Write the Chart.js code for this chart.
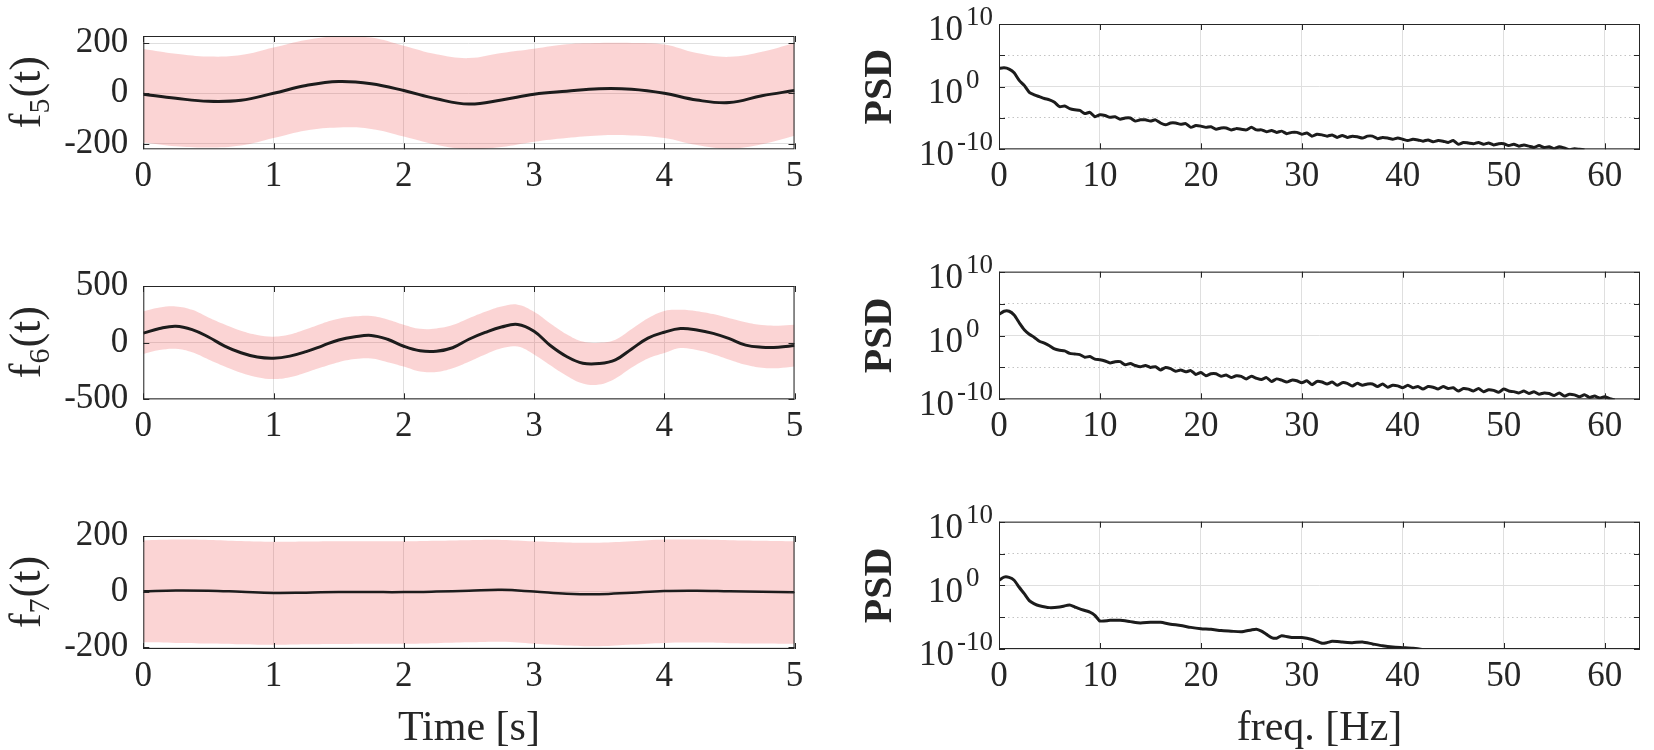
<!DOCTYPE html>
<html>
<head>
<meta charset="utf-8">
<script src="https://cdn.jsdelivr.net/npm/chart.js@4.4.1/dist/chart.umd.min.js"></script>
<style>
    body { margin: 0; background: #fff; }
    #figura { position: relative; width: 1654px; height: 750px; }
    canvas { position: absolute; }
</style>
</head>
<body>
<div id="figura">
    <canvas id="f5" width="820" height="250" style="left:0;top:0"></canvas>
    <canvas id="p5" width="834" height="250" style="left:820px;top:0"></canvas>
    <canvas id="f6" width="820" height="250" style="left:0;top:250px"></canvas>
    <canvas id="p6" width="834" height="250" style="left:820px;top:250px"></canvas>
    <canvas id="f7" width="820" height="250" style="left:0;top:500px"></canvas>
    <canvas id="p7" width="834" height="250" style="left:820px;top:500px"></canvas>
</div>
<script>
"use strict"

// tiempos [s]
const tiempo25 = [0, 0.25, 0.5, 0.75, 1, 1.25, 1.5, 1.75, 2, 2.25, 2.5, 2.75, 3, 3.25, 3.5, 3.75, 4, 4.25, 4.5, 4.75, 5];
const tiempo125 = [0, 0.125, 0.25, 0.375, 0.5, 0.625, 0.75, 0.875, 1, 1.125, 1.25, 1.375, 1.5, 1.625, 1.75, 1.875,
    2, 2.125, 2.25, 2.375, 2.5, 2.625, 2.75, 2.875, 3, 3.125, 3.25, 3.375, 3.5, 3.625, 3.75, 3.875,
    4, 4.125, 4.25, 4.375, 4.5, 4.625, 4.75, 4.875, 5];

// f5(t)
const f5Media = [-4, -20, -32, -28, 0, 31, 47, 38, 11, -22, -43, -27, -4, 8, 18, 16, 0, -27, -37, -10, 11];
const f5Sup = [176, 157, 146, 152, 182, 212, 227, 222, 189, 155, 140, 160, 177, 195, 200, 200, 194, 160, 145, 165, 200];
const f5Inf = [-196, -211, -216, -208, -178, -148, -136, -142, -172, -205, -223, -214, -193, -178, -168, -168, -178, -206, -220, -203, -169];

// f6(t)
const f6Media = [84, 125, 145, 115, 50, -30, -89, -127, -137, -119, -79, -28, 24, 52, 64, 30, -32, -72, -76, -45,
    30, 90, 138, 160, 100, -25, -122, -182, -185, -152, -55, 40, 92, 124, 112, 82, 35, -22, -40, -40, -26];
const f6Sup = [276, 310, 320, 290, 222, 160, 105, 68, 53, 72, 118, 170, 210, 232, 235, 205, 158, 122, 125, 155,
    215, 272, 318, 335, 272, 170, 75, 10, 0, 26, 120, 215, 280, 290, 278, 252, 215, 180, 155, 150, 158];
const f6Inf = [-100, -65, -54, -85, -148, -210, -265, -305, -321, -305, -263, -215, -172, -145, -140, -172, -211, -255, -258, -225,
    -168, -105, -50, -35, -105, -200, -292, -360, -370, -316, -220, -140, -92, -48, -65, -102, -150, -195, -222, -225, -211];

// f7(t)
const f7Media = [1, 4, 3, -1, -5, -4, -2, -2, -2, 0, 3, 6, 0, -8, -10, -4, 2, 3, 1, -1, -3];
const f7Sup = [184, 187, 186, 182, 179, 180, 181, 181, 181, 183, 185, 186, 181, 177, 176, 181, 187, 187, 185, 183, 181];
const f7Inf = [-183, -185, -187, -190, -192, -190, -189, -188, -188, -186, -183, -181, -188, -194, -197, -191, -185, -184, -186, -187, -188];

// frecuencias [Hz]
const frecMedio = [0, 0.5, 1, 1.5, 2, 2.5, 3, 3.5, 4, 4.5, 5, 5.5, 6, 6.5, 7, 7.5, 8, 8.5, 9, 9.5,
    10, 10.5, 11, 11.5, 12, 12.5, 13, 13.5, 14, 14.5, 15, 15.5, 16, 16.5, 17, 17.5, 18, 18.5, 19, 19.5,
    20, 20.5, 21, 21.5, 22, 22.5, 23, 23.5, 24, 24.5, 25, 25.5, 26, 26.5, 27, 27.5, 28, 28.5, 29, 29.5,
    30, 30.5, 31, 31.5, 32, 32.5, 33, 33.5, 34, 34.5, 35, 35.5, 36, 36.5, 37, 37.5, 38, 38.5, 39, 39.5,
    40, 40.5, 41, 41.5, 42, 42.5, 43, 43.5, 44, 44.5, 45, 45.5, 46, 46.5, 47, 47.5, 48, 48.5, 49, 49.5,
    50, 50.5, 51, 51.5, 52, 52.5, 53, 53.5, 54, 54.5, 55, 55.5, 56, 56.5, 57, 57.5, 58, 58.5, 59, 59.5,
    60, 60.5, 61];
const frec7 = [0, 0.5, 1, 1.5, 2, 2.5, 3, 3.5, 4, 5, 6, 7, 7.5, 8, 9, 9.5, 10, 11, 12, 13, 14, 15, 16, 17, 18, 19,
    20, 21, 22, 23, 24, 25, 25.5, 26, 26.5, 27, 27.5, 28, 29, 30, 31, 32, 32.5, 33, 34, 35, 36, 37, 38, 39, 40, 41, 42];

// PSD, en exponentes de 10
const psd5Log = [2.9, 3.0, 2.8, 2.2, 1.0, 0.2, -0.9, -1.3, -1.6, -1.9,
    -2.1, -2.5, -3.2, -3.1, -3.5, -3.7, -3.8, -4.3, -4.1, -4.8,
    -4.5, -4.6, -4.9, -4.8, -5.2, -5.0, -5.0, -5.5, -5.3, -5.3,
    -5.5, -5.3, -5.8, -6.1, -5.8, -5.8, -6.0, -5.9, -6.5, -6.2,
    -6.3, -6.5, -6.4, -6.8, -6.6, -6.6, -6.9, -6.7, -6.8, -6.9,
    -6.5, -6.9, -6.9, -7.2, -7.0, -7.3, -7.1, -7.5, -7.3, -7.3,
    -7.6, -7.4, -7.9, -7.6, -7.7, -7.9, -7.7, -8.1, -7.8, -8.1,
    -7.9, -8.0, -8.2, -7.9, -7.9, -8.3, -8.1, -8.2, -8.4, -8.2,
    -8.4, -8.6, -8.4, -8.5, -8.7, -8.5, -8.8, -8.6, -8.7, -8.9,
    -8.6, -9.2, -8.9, -9.0, -9.1, -8.9, -9.2, -9.0, -9.3, -9.1,
    -9.1, -9.4, -9.2, -9.5, -9.3, -9.5, -9.7, -9.4, -9.7, -9.6,
    -9.9, -9.6, -9.8, -10.1, -9.9, -10.0, -10.1];
const psd6Log = [3.3, 3.8, 3.8, 3.2, 2.0, 0.9, 0.2, -0.3, -0.9, -1.2,
    -1.6, -2.1, -2.3, -2.4, -2.8, -2.9, -3.0, -3.4, -3.3, -3.7,
    -3.8, -4.0, -4.3, -4.1, -4.1, -4.6, -4.4, -4.7, -4.9, -4.7,
    -5.0, -4.9, -5.4, -5.0, -5.2, -5.6, -5.4, -5.7, -5.5, -6.1,
    -5.8, -6.3, -6.0, -6.0, -6.4, -6.2, -6.6, -6.3, -6.4, -6.8,
    -6.4, -6.7, -6.9, -6.6, -7.2, -6.8, -7.0, -7.3, -7.0, -7.1,
    -7.4, -7.1, -7.7, -7.2, -7.3, -7.6, -7.3, -7.8, -7.4, -7.5,
    -7.9, -7.5, -7.8, -7.6, -7.6, -8.0, -7.6, -8.1, -7.8, -7.9,
    -8.2, -7.8, -8.2, -8.0, -8.4, -8.0, -8.1, -8.4, -8.0, -8.3,
    -8.2, -8.7, -8.3, -8.4, -8.7, -8.3, -8.8, -8.5, -8.6, -8.9,
    -8.4, -8.7, -8.8, -9.0, -8.7, -9.1, -8.8, -9.2, -9.0, -9.1,
    -9.4, -9.0, -9.5, -9.2, -9.3, -9.6, -9.3, -9.7, -9.5, -9.8,
    -9.6, -9.9, -10.1];
const psd7Log = [0.8, 1.3, 1.25, 0.8, -0.3, -1.3, -2.4, -2.9, -3.2, -3.5, -3.4, -3.1, -3.4, -3.7, -4.2, -4.7,
    -5.6, -5.5, -5.5, -5.7, -5.9, -5.8, -5.8, -6.1, -6.3, -6.6, -6.8, -6.9, -7.1, -7.2, -7.3, -7.0, -6.9,
    -7.2, -7.7, -8.2, -8.3, -7.9, -8.2, -8.2, -8.5, -9.1, -9.0, -8.8, -8.9, -9.0, -8.9, -9.2, -9.5, -9.7,
    -9.8, -9.9, -10.1];

// ticks
const ticksTiempo = [0, 1, 2, 3, 4, 5];
const ticksFrec = [0, 10, 20, 30, 40, 50, 60];
const ticksF5 = [-200, 0, 200];
const ticksF6 = [-500, 0, 500];
const ticksF7 = [-200, 0, 200];
const ticksPsd = [1e-10, 1e-5, 1, 1e5, 1e10];
const exponentesPsd = [-10, 0, 10];

const FUENTE = "'Liberation Serif', 'Times New Roman', serif";
const TINTA = "#262626";
const REJILLA = "#dfdfdf";
const BANDA = "rgba(235, 60, 60, 0.22)";
const TAM_TICK = 35;

Chart.defaults.font.family = FUENTE;

function fijarTicks(valores) {
    return scale => { scale.ticks = valores.map(v => ({ value: v })); };
}

function puntos(xs, ys) {
    return xs.map((x, i) => ({ x: x, y: ys[i] }));
}

const ejesMatlab = {
    id: "matlab",
    afterDraw(chart, args, opts) {
        const ctx = chart.ctx;
        const a = chart.chartArea;
        const sx = chart.scales.x;
        const sy = chart.scales.y;
        ctx.save();
        ctx.strokeStyle = TINTA;
        ctx.lineWidth = 1;
        ctx.beginPath();
        sx.ticks.forEach(t => {
            const px = Math.round(sx.getPixelForValue(t.value)) + 0.5;
            ctx.moveTo(px, a.bottom); ctx.lineTo(px, a.bottom - 6);
            ctx.moveTo(px, a.top); ctx.lineTo(px, a.top + 6);
        });
        sy.ticks.forEach(t => {
            const py = Math.round(sy.getPixelForValue(t.value)) + 0.5;
            ctx.moveTo(a.left, py); ctx.lineTo(a.left + 6, py);
            ctx.moveTo(a.right, py); ctx.lineTo(a.right - 6, py);
        });
        ctx.stroke();
        ctx.strokeRect(a.left + 0.5, a.top + 0.5, a.right - a.left - 1, a.bottom - a.top - 1);

        ctx.fillStyle = TINTA;
        if (opts.exponentes) {
            const xr = a.left - 6;
            ctx.textBaseline = "middle";
            ctx.font = "27px " + FUENTE;
            const anchoRef = ctx.measureText("10").width;
            opts.exponentes.forEach(e => {
                const py = sy.getPixelForValue(Math.pow(10, e));
                const txt = String(e);
                ctx.font = "27px " + FUENTE;
                const w = ctx.measureText(txt).width;
                const xBase = xr - Math.max(w, anchoRef) - 3;
                ctx.textAlign = "left";
                ctx.fillText(txt, xBase + 3, py - 6);
                ctx.font = TAM_TICK + "px " + FUENTE;
                ctx.textAlign = "right";
                ctx.fillText("10", xBase, py + 7);
            });
        }
        if (opts.nombre) {
            const n = opts.nombre;
            ctx.translate(n.x, (a.top + a.bottom) / 2);
            ctx.rotate(-Math.PI / 2);
            const grande = "44px " + FUENTE;
            const chica = "30px " + FUENTE;
            ctx.font = grande;
            const w1 = ctx.measureText(n.base).width;
            const w3 = ctx.measureText(n.resto).width;
            ctx.font = chica;
            const w2 = ctx.measureText(n.sub).width;
            const x0 = -(w1 + w2 + w3) / 2;
            ctx.textAlign = "left";
            ctx.textBaseline = "alphabetic";
            ctx.font = grande;
            ctx.fillText(n.base, x0, 14);
            ctx.font = chica;
            ctx.fillText(n.sub, x0 + w1, 23);
            ctx.font = grande;
            ctx.fillText(n.resto, x0 + w1 + w2 + 1, 14);
        }
        ctx.restore();
    }
};

function ejeX(min, max, ticks, alto, titulo) {
    return {
        type: "linear",
        min: min,
        max: max,
        afterBuildTicks: fijarTicks(ticks),
        afterFit: s => { s.height = alto; },
        grid: { color: REJILLA, lineWidth: 1, drawTicks: false },
        border: { display: false },
        ticks: { color: TINTA, font: { size: TAM_TICK }, padding: 7, maxRotation: 0, autoSkip: false },
        title: {
            display: !!titulo,
            text: titulo || "",
            color: TINTA,
            font: { size: 42, lineHeight: 1.0 },
            padding: { top: 0, bottom: 0 }
        }
    };
}

function panelTiempo(id, tiempos, media, sup, inf, yMin, yMax, yTicks, sub, caja, titulo) {
    new Chart(document.getElementById(id), {
        type: "line",
        data: {
            datasets: [{
                data: puntos(tiempos, media),
                borderColor: "#1c1c1c",
                borderWidth: caja.grosor,
                pointRadius: 0,
                tension: 0.4,
                fill: false
            }, {
                data: puntos(tiempos, sup),
                borderWidth: 0,
                borderColor: "transparent",
                backgroundColor: BANDA,
                pointRadius: 0,
                tension: 0.4,
                fill: "+1"
            }, {
                data: puntos(tiempos, inf),
                borderWidth: 0,
                borderColor: "transparent",
                pointRadius: 0,
                tension: 0.4,
                fill: false
            }]
        },
        options: {
            responsive: false,
            animation: false,
            events: [],
            layout: { padding: { left: 0, right: 25.5, top: caja.arriba, bottom: 0 } },
            plugins: {
                legend: { display: false },
                tooltip: { enabled: false },
                matlab: { nombre: { base: "f", sub: sub, resto: "(t)", x: 26 } }
            },
            scales: {
                x: ejeX(0, 5, ticksTiempo, 250 - caja.abajo, titulo),
                y: {
                    type: "linear",
                    min: yMin,
                    max: yMax,
                    afterBuildTicks: fijarTicks(yTicks),
                    afterFit: s => { s.width = 143.3; },
                    grid: { color: REJILLA, lineWidth: 1, drawTicks: false },
                    border: { display: false },
                    ticks: { color: TINTA, font: { size: TAM_TICK }, padding: 15 }
                }
            }
        },
        plugins: [ejesMatlab]
    });
}

function panelPsd(id, frecs, valoresLog, caja, titulo) {
    new Chart(document.getElementById(id), {
        type: "line",
        data: {
            datasets: [{
                data: puntos(frecs, valoresLog.map(v => Math.pow(10, v))),
                borderColor: "#1c1c1c",
                borderWidth: 3,
                pointRadius: 0,
                tension: 0.2,
                fill: false
            }]
        },
        options: {
            responsive: false,
            animation: false,
            events: [],
            layout: { padding: { left: 0, right: 14, top: caja.arriba, bottom: 0 } },
            plugins: {
                legend: { display: false },
                tooltip: { enabled: false },
                matlab: { exponentes: exponentesPsd }
            },
            scales: {
                x: ejeX(0, 63.5, ticksFrec, 250 - caja.abajo, titulo),
                y: {
                    type: "logarithmic",
                    min: 1e-10,
                    max: 1e10,
                    afterBuildTicks: fijarTicks(ticksPsd),
                    afterFit: s => { s.width = 179; },
                    grid: {
                        drawTicks: false,
                        lineWidth: 1,
                        color: c => Math.round(Math.log10(c.tick.value)) % 10 === 0 ? REJILLA : "#c4c4c4",
                        borderDash: c => Math.round(Math.log10(c.tick.value)) % 10 === 0 ? [] : [1.5, 3]
                    },
                    border: {
                        display: false,
                        dash: c => Math.round(Math.log10(c.tick.value)) % 10 === 0 ? [] : [1.5, 3]
                    },
                    ticks: { display: false },
                    title: {
                        display: true,
                        text: "PSD",
                        color: TINTA,
                        font: { size: 40, weight: "bold" },
                        padding: { top: 37, bottom: 0 }
                    }
                }
            }
        },
        plugins: [ejesMatlab]
    });
}

panelTiempo("f5", tiempo25, f5Media, f5Sup, f5Inf, -223, 228, ticksF5, "5", { arriba: 24, abajo: 149.3, grosor: 3 });
panelTiempo("f6", tiempo125, f6Media, f6Sup, f6Inf, -500, 500, ticksF6, "6", { arriba: 21.7, abajo: 149.3, grosor: 3 });
panelTiempo("f7", tiempo25, f7Media, f7Sup, f7Inf, -207, 200, ticksF7, "7", { arriba: 21.7, abajo: 149, grosor: 2.5 }, "Time [s]");

panelPsd("p5", frecMedio.slice(0, psd5Log.length), psd5Log, { arriba: 24, abajo: 149.3 });
panelPsd("p6", frecMedio.slice(0, psd6Log.length), psd6Log, { arriba: 21.7, abajo: 149.3 });
panelPsd("p7", frec7, psd7Log, { arriba: 21.7, abajo: 149 }, "freq. [Hz]");
</script>
</body>
</html>
